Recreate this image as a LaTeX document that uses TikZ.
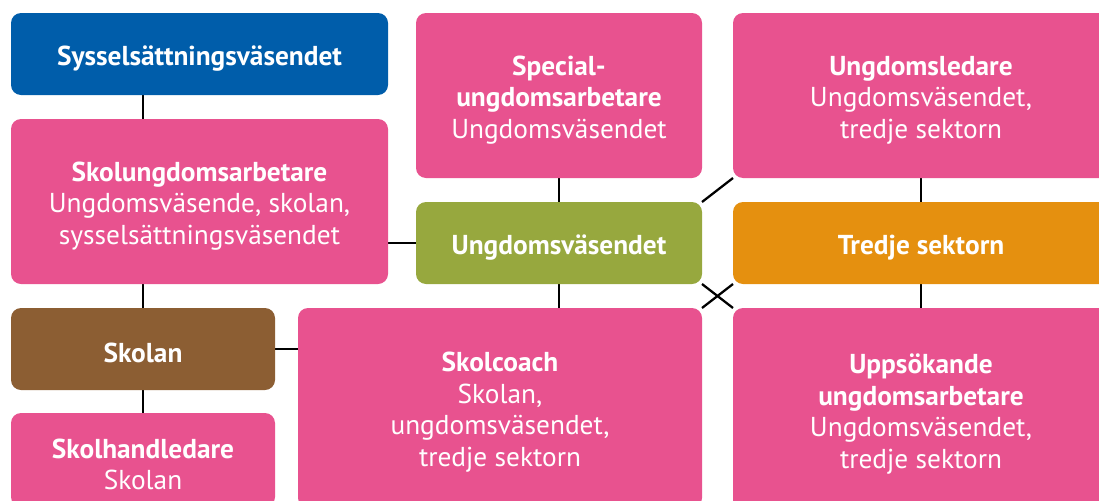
\documentclass[tikz,border=0pt]{standalone}
\usepackage{fontspec}
\setmainfont{PT Sans}
\usetikzlibrary{backgrounds}

\definecolor{rosa}{HTML}{E8528F}
\definecolor{bla}{HTML}{005DAA}
\definecolor{gron}{HTML}{97A83E}
\definecolor{orange}{HTML}{E5900F}
\definecolor{brun}{HTML}{8C5E33}
\newcommand{\rubrik}[1]{\rule{0pt}{21pt}\textbf{#1}}

\begin{document}
\begin{tikzpicture}[
        x=0.75pt, y=-0.75pt,
        box/.style={fill=rosa, rounded corners=7.5pt, text=white, outer sep=0pt,
                    inner sep=0pt, align=center,
                    font=\fontsize{20.5}{23.6}\selectfont},
        arr/.style={line width=1.7pt, black}
    ]
        \clip (0,0) rectangle (1099,500);
        \node[box, fill=bla, minimum width=377*0.75pt, minimum height=82*0.75pt]
            (sys) at (199.5, 54) {\rubrik{Sysselsättningsväsendet}};
        \node[box, minimum width=377*0.75pt, minimum height=165*0.75pt]
            (sua) at (199.5, 201.5) {\rubrik{Skolungdomsarbetare}\\Ungdomsväsende, skolan,\\sysselsättningsväsendet};
        \node[box, fill=brun, minimum width=264*0.75pt, minimum height=82*0.75pt]
            (sk) at (143, 349) {\rubrik{Skolan}};
        \node[box, minimum width=264*0.75pt, minimum height=94*0.75pt]
            (shl) at (143, 460) {\rubrik{Skolhandledare}\\Skolan};
        \node[box, minimum width=286*0.75pt, minimum height=165*0.75pt]
            (sua2) at (559, 95.5) {\rubrik{Special-}\\\textbf{ungdomsarbetare}\\Ungdomsväsendet};
        \node[box, fill=gron, minimum width=286*0.75pt, minimum height=82*0.75pt]
            (uv) at (559, 243) {\rubrik{Ungdomsväsendet}};
        \node[box, minimum width=404*0.75pt, minimum height=200*0.75pt]
            (sc) at (500, 408) {\rubrik{Skolcoach}\\Skolan,\\ungdomsväsendet,\\tredje sektorn};
        \node[box, minimum width=376*0.75pt, minimum height=165*0.75pt]
            (ul) at (921, 95.5) {\rubrik{Ungdomsledare}\\Ungdomsväsendet,\\tredje sektorn};
        \node[box, fill=orange, minimum width=376*0.75pt, minimum height=82*0.75pt]
            (ts) at (921, 243) {\rubrik{Tredje sektorn}};
        \node[box, minimum width=376*0.75pt, minimum height=204*0.75pt]
            (ua) at (921, 410) {\rubrik{Uppsökande}\\\textbf{ungdomsarbetare}\\Ungdomsväsendet,\\tredje sektorn};
        \begin{scope}[on background layer]
            \draw[arr] (sk |- sys.south) -- (sk |- sua.north);
            \draw[arr] (sk |- sua.south) -- (sk);
            \draw[arr] (sk)--(shl);
            \draw[arr] (sua.east |- uv) -- (uv);
            \draw[arr] (sk) -- (sc.west |- sk);
            \draw[arr] (sua2)--(uv);
            \draw[arr] (uv) -- (uv |- sc.north);
            \draw[arr] (ul)--(ts);
            \draw[arr] (ts)--(ua);
            \draw[arr] (uv.north east)--(ul.south west);
            \draw[arr] (uv.south east)--(ua.north west);
            \draw[arr] (ts.south west)--(sc.north east);
        \end{scope}
    \end{tikzpicture}
\end{document}
